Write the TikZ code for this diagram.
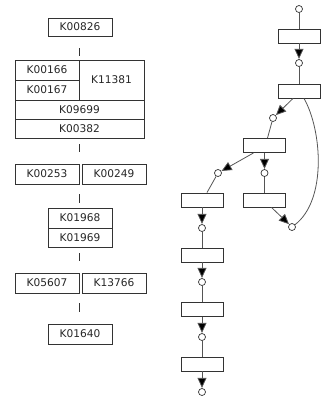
\documentclass[tikz,border=0pt]{standalone}
\usepackage{fontspec}
\setmainfont{DejaVu Sans}
\usetikzlibrary{arrows.meta}
\definecolor{edge}{HTML}{333333}
\definecolor{conn}{HTML}{555555}
\tikzset{
  kbox/.style={draw=edge, line width=0.9pt, inner sep=0pt, font=\fontsize{10.6}{12}\selectfont, text=black!85},
  rbox/.style={draw=edge, line width=0.9pt, fill=white, inner sep=0pt, minimum width=42pt, minimum height=14pt},
  cpd/.style={circle, draw=edge, line width=0.7pt, fill=white, inner sep=0pt, minimum size=7pt},
  tick/.style={draw=edge, line width=0.9pt},
  plain/.style={draw=conn, line width=0.8pt},
  arr/.style={draw=conn, line width=0.8pt, -{Triangle[length=10pt,width=9pt,fill=black]}, shorten >=0.3pt},
}
\begin{document}
\begin{tikzpicture}[x=1pt,y=-1pt]
\useasboundingbox (0,0) rectangle (325,400);
% ---------- left: module blocks ----------
\node[kbox, minimum width=64pt, minimum height=18pt] (k00826) at (80,27) {K00826};
\coordinate (t1a) at (79,48); \coordinate (t1b) at (79,56);
\draw[tick] (t1a) -- (t1b);
\node[kbox, minimum width=64pt, minimum height=20pt] (k00166) at (47,70) {K00166};
\node[kbox, minimum width=64pt, minimum height=20pt] (k00167) at (47,90) {K00167};
\node[kbox, minimum width=65pt, minimum height=40pt] (k11381) at (111.5,80) {K11381};
\node[kbox, minimum width=129pt, minimum height=19pt] (k09699) at (79.5,109.5) {K09699};
\node[kbox, minimum width=129pt, minimum height=19pt] (k00382) at (79.5,128.5) {K00382};
\coordinate (t2a) at (79,144); \coordinate (t2b) at (79,152);
\draw[tick] (t2a) -- (t2b);
\node[kbox, minimum width=64pt, minimum height=20pt] (k00253) at (47,174) {K00253};
\node[kbox, minimum width=64pt, minimum height=20pt] (k00249) at (114,174) {K00249};
\coordinate (t3a) at (79,194); \coordinate (t3b) at (79,203);
\draw[tick] (t3a) -- (t3b);
\node[kbox, minimum width=64pt, minimum height=20pt] (k01968) at (80,218) {K01968};
\node[kbox, minimum width=64pt, minimum height=19pt] (k01969) at (80,237.5) {K01969};
\coordinate (t4a) at (79,253); \coordinate (t4b) at (79,261);
\draw[tick] (t4a) -- (t4b);
\node[kbox, minimum width=64pt, minimum height=20pt] (k05607) at (47,283) {K05607};
\node[kbox, minimum width=64pt, minimum height=20pt] (k13766) at (114,283) {K13766};
\coordinate (t5a) at (79,303); \coordinate (t5b) at (79,312);
\draw[tick] (t5a) -- (t5b);
\node[kbox, minimum width=64pt, minimum height=20pt] (k01640) at (80,334) {K01640};
% ---------- right: reaction graph ----------
\node[rbox] (b1) at (299,36) {};
\node[rbox] (b2) at (299,91) {};
\node[rbox] (b3) at (264.5,145.5) {};
\node[rbox] (b4) at (264.5,200) {};
\node[rbox] (b5) at (202,200) {};
\node[rbox] (b6) at (202,255) {};
\node[rbox] (b7) at (202,309.5) {};
\node[rbox] (b8) at (202,364) {};
\node[cpd] (c1) at (299,9) {};
\node[cpd] (c2) at (299,63) {};
\node[cpd] (c3) at (273,118) {};
\node[cpd] (c4) at (218,173) {};
\node[cpd] (c5) at (264.5,173) {};
\node[cpd] (c6) at (292,227) {};
\node[cpd] (c7) at (202,228) {};
\node[cpd] (c8) at (202,282) {};
\node[cpd] (c9) at (202,337) {};
\node[cpd] (c10) at (202,392) {};
\draw[plain] (c1) -- (b1);
\draw[arr] (b1) -- (c2);
\draw[plain] (c2) -- (b2);
\draw[arr] ([xshift=-6pt]b2.south) -- (c3);
\draw[plain] (c3) -- ([xshift=3pt]b3.north);
\draw[arr] ([xshift=-11pt]b3.south) -- (c4);
\draw[arr] (b3) -- (c5);
\draw[plain] (c5) -- (b4);
\draw[arr] ([xshift=7pt]b4.south) -- (c6);
\draw[plain] ([xshift=5pt]b2.south) .. controls (322,130) and (327,200) .. (c6);
\draw[plain] (c4) -- ([xshift=5pt]b5.north);
\draw[arr] (b5) -- (c7);
\draw[plain] (c7) -- (b6);
\draw[arr] (b6) -- (c8);
\draw[plain] (c8) -- (b7);
\draw[arr] (b7) -- (c9);
\draw[plain] (c9) -- (b8);
\draw[arr] (b8) -- (c10);
\end{tikzpicture}
\end{document}
